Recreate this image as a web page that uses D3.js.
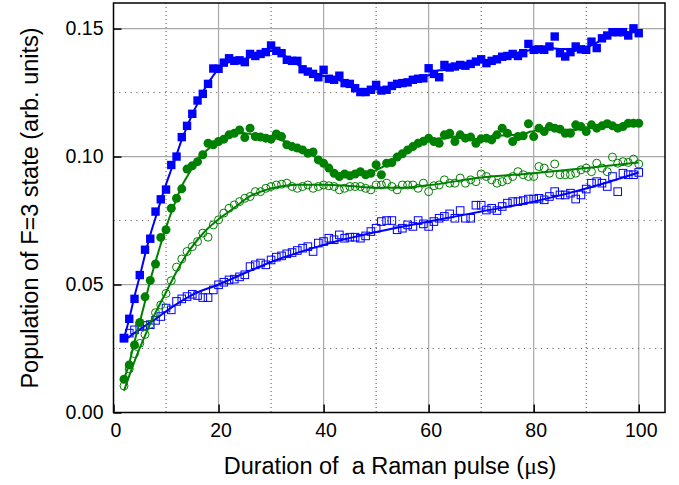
<!DOCTYPE html>
<html>
<head>
<meta charset="utf-8">
<script src="https://cdn.jsdelivr.net/npm/d3@7"></script>
<style>
  body { margin: 0; background: #fff; }
  text { font-family: "Liberation Sans", Arial, sans-serif; }
</style>
</head>
<body>
<script>
// pulse durations (µs), one sample per µs
const time = d3.range(2, 101);

// filled blue squares
const blueFilled = [0.0290,0.0366,0.0444,0.0537,0.0636,0.0679,0.0785,0.0833,0.0871,0.0967,
  0.1000,0.1076,0.1120,0.1167,0.1219,0.1245,0.1284,0.1344,0.1343,0.1367,
  0.1384,0.1374,0.1376,0.1369,0.1401,0.1393,0.1401,0.1408,0.1434,0.1413,
  0.1404,0.1378,0.1374,0.1374,0.1341,0.1332,0.1323,0.1310,0.1339,0.1304,
  0.1300,0.1316,0.1287,0.1284,0.1267,0.1252,0.1252,0.1261,0.1280,0.1258,
  0.1261,0.1276,0.1284,0.1287,0.1290,0.1300,0.1304,0.1306,0.1345,0.1323,
  0.1310,0.1358,0.1348,0.1352,0.1358,0.1355,0.1362,0.1371,0.1380,0.1365,
  0.1374,0.1380,0.1390,0.1393,0.1401,0.1393,0.1404,0.1440,0.1417,0.1419,
  0.1417,0.1430,0.1469,0.1404,0.1391,0.1408,0.1430,0.1419,0.1417,0.1449,
  0.1424,0.1462,0.1473,0.1486,0.1486,0.1486,0.1473,0.1501,0.1482];

// filled green circles
const greenFilled = [0.0130,0.0186,0.0264,0.0352,0.0452,0.0516,0.0580,0.0684,0.0714,0.0798,
  0.0837,0.0874,0.0951,0.0964,0.0980,0.1007,0.1052,0.1046,0.1059,0.1068,
  0.1085,0.1091,0.1104,0.1074,0.1111,0.1078,0.1076,0.1072,0.1068,0.1088,
  0.1078,0.1046,0.1039,0.1033,0.1026,0.1013,0.1018,0.0987,0.0974,0.0955,
  0.0935,0.0922,0.0932,0.0925,0.0932,0.0941,0.0929,0.0935,0.0968,0.0929,
  0.0974,0.0977,0.0998,0.1011,0.1026,0.1039,0.1052,0.1060,0.1072,0.1059,
  0.1052,0.1085,0.1091,0.1059,0.1085,0.1072,0.1076,0.1052,0.1070,0.1072,
  0.1065,0.1085,0.1111,0.1091,0.1059,0.1078,0.1081,0.1128,0.1078,0.1111,
  0.1098,0.1117,0.1111,0.1107,0.1091,0.1091,0.1124,0.1117,0.1098,0.1124,
  0.1111,0.1120,0.1128,0.1120,0.1111,0.1117,0.1130,0.1130,0.1130];

// open green circles
const greenOpen = [0.0104,0.0170,0.0230,0.0270,0.0305,0.0345,0.0390,0.0420,0.0465,0.0515,
  0.0568,0.0600,0.0629,0.0648,0.0668,0.0701,0.0685,0.0733,0.0753,0.0779,
  0.0798,0.0811,0.0824,0.0837,0.0844,0.0863,0.0863,0.0876,0.0883,0.0889,
  0.0892,0.0896,0.0883,0.0876,0.0883,0.0889,0.0876,0.0883,0.0889,0.0886,
  0.0883,0.0870,0.0876,0.0883,0.0883,0.0883,0.0876,0.0870,0.0889,0.0889,
  0.0896,0.0883,0.0870,0.0889,0.0889,0.0889,0.0876,0.0896,0.0863,0.0886,
  0.0889,0.0909,0.0896,0.0896,0.0916,0.0896,0.0909,0.0902,0.0932,0.0922,
  0.0909,0.0896,0.0902,0.0909,0.0922,0.0941,0.0929,0.0922,0.0922,0.0961,
  0.0955,0.0935,0.0971,0.0929,0.0929,0.0929,0.0935,0.0948,0.0955,0.0941,
  0.0974,0.0955,0.0941,0.0998,0.0974,0.0980,0.0977,0.0990,0.0971];

// open blue squares
const blueOpen = [0.0291,0.0310,0.0323,0.0336,0.0340,0.0343,0.0360,0.0375,0.0408,0.0401,
  0.0434,0.0444,0.0453,0.0462,0.0457,0.0449,0.0449,0.0479,0.0499,0.0509,
  0.0518,0.0521,0.0530,0.0538,0.0570,0.0577,0.0584,0.0577,0.0596,0.0607,
  0.0612,0.0620,0.0625,0.0633,0.0642,0.0648,0.0629,0.0662,0.0668,0.0681,
  0.0675,0.0694,0.0681,0.0685,0.0685,0.0681,0.0690,0.0707,0.0720,0.0746,
  0.0750,0.0750,0.0714,0.0720,0.0733,0.0727,0.0750,0.0737,0.0727,0.0746,
  0.0759,0.0766,0.0776,0.0759,0.0789,0.0759,0.0759,0.0810,0.0810,0.0791,
  0.0798,0.0789,0.0805,0.0818,0.0824,0.0824,0.0828,0.0834,0.0834,0.0837,
  0.0831,0.0844,0.0863,0.0850,0.0850,0.0857,0.0834,0.0850,0.0873,0.0896,
  0.0902,0.0896,0.0883,0.0922,0.0863,0.0935,0.0929,0.0929,0.0938];

// fitted curves for the open symbols
const greenFitT = [2,4,6,8,10,12,14,16,18,20,23,26,30,35,40,45,50,55,60,70,80,90,100];
const greenFitV = [0.0085,0.0200,0.0300,0.0390,0.0470,0.0550,0.0620,0.0675,0.0720,0.0755,
  0.0800,0.0845,0.0875,0.0890,0.0890,0.0885,0.0878,0.0878,0.0888,0.0918,0.0935,0.0955,0.0977];
const blueFitT = [2,5,8,11,15,20,25,30,40,50,60,70,80,90,100];
const blueFitV = [0.0282,0.0325,0.0365,0.0410,0.0460,0.0500,0.0545,0.0588,0.0655,0.0705,
  0.0746,0.0785,0.0824,0.0875,0.0938];

const xTicks = [0, 20, 40, 60, 80, 100];
const xMinor = [10, 30, 50, 70, 90];
const yTicks = [0, 0.05, 0.10, 0.15];
const yMinor = [0.025, 0.075, 0.125];

const width = 679, height = 485;
const mLeft = 113.5, mRight = 665, mTop = 3, mBottom = 412.5;
const blue = "#0000ff", green = "#008000";

const svg = d3.select("body").append("svg")
  .attr("width", width)
  .attr("height", height);

const x = d3.scaleLinear().domain([0, 105]).range([mLeft, mRight]);
const y = d3.scaleLinear().domain([0, 0.16]).range([mBottom, mTop]);

// grid
svg.append("g").selectAll("line").data(xTicks.filter(d => d > 0)).join("line")
  .attr("x1", d => x(d)).attr("x2", d => x(d)).attr("y1", mTop).attr("y2", mBottom)
  .attr("stroke", "#a8a8a8").attr("stroke-width", 1.2);
svg.append("g").selectAll("line").data(yTicks.filter(d => d > 0)).join("line")
  .attr("x1", mLeft).attr("x2", mRight).attr("y1", d => y(d)).attr("y2", d => y(d))
  .attr("stroke", "#a8a8a8").attr("stroke-width", 1.2);
svg.append("g").selectAll("line").data(xMinor).join("line")
  .attr("x1", d => x(d)).attr("x2", d => x(d)).attr("y1", mTop).attr("y2", mBottom)
  .attr("stroke", "#555").attr("stroke-width", 1).attr("stroke-dasharray", "1,3");
svg.append("g").selectAll("line").data(yMinor).join("line")
  .attr("x1", mLeft).attr("x2", mRight).attr("y1", d => y(d)).attr("y2", d => y(d))
  .attr("stroke", "#666").attr("stroke-width", 1).attr("stroke-dasharray", "1.2,4.5");

// axes, ticks pointing inside
const xAxis = d3.axisBottom(x).tickValues(xTicks).tickSize(-8).tickPadding(11)
  .tickFormat(d3.format("d"));
const gx = svg.append("g").attr("transform", `translate(0,${mBottom})`).call(xAxis);
const yAxis = d3.axisLeft(y).tickValues(yTicks).tickSize(-8).tickPadding(10)
  .tickFormat(d3.format(".2f"));
const gy = svg.append("g").attr("transform", `translate(${mLeft},0)`).call(yAxis);
[gx, gy].forEach(g => {
  g.select(".domain").remove();
  g.selectAll(".tick line").attr("stroke", "#000").attr("stroke-width", 1.5);
  g.selectAll("text").attr("font-size", 19.5).attr("fill", "#000")
    .attr("font-family", "Liberation Sans, Arial, sans-serif");
});
gx.selectAll("text").attr("dx", 2);

// moving average for the lines through the filled symbols
const smooth = (arr, h) => arr.map((v, i) => {
  const k = Math.min(h, i, arr.length - 1 - i);
  return d3.mean(arr.slice(i - k, i + k + 1));
});

const line = d3.line().x(d => x(d[0])).y(d => y(d[1])).curve(d3.curveMonotoneX);
const plot = svg.append("g");

// open blue squares + fit
plot.selectAll("rect.bo").data(d3.zip(time, blueOpen)).join("rect")
  .attr("class", "bo")
  .attr("x", d => x(d[0]) - 3.8).attr("y", d => y(d[1]) - 3.8)
  .attr("width", 7.6).attr("height", 7.6)
  .attr("fill", "none").attr("stroke", blue).attr("stroke-width", 1);
plot.append("path").datum(d3.zip(blueFitT, blueFitV))
  .attr("d", line).attr("fill", "none").attr("stroke", blue).attr("stroke-width", 2);

// open green circles + fit
plot.selectAll("circle.go").data(d3.zip(time, greenOpen)).join("circle")
  .attr("class", "go")
  .attr("cx", d => x(d[0])).attr("cy", d => y(d[1])).attr("r", 4)
  .attr("fill", "none").attr("stroke", green).attr("stroke-width", 1);
plot.append("path").datum(d3.zip(greenFitT, greenFitV))
  .attr("d", line).attr("fill", "none").attr("stroke", green).attr("stroke-width", 2);

// filled green circles
plot.append("path").datum(d3.zip(time, smooth(greenFilled, 2)))
  .attr("d", line).attr("fill", "none").attr("stroke", green).attr("stroke-width", 2);
plot.selectAll("circle.gf").data(d3.zip(time, greenFilled)).join("circle")
  .attr("class", "gf")
  .attr("cx", d => x(d[0])).attr("cy", d => y(d[1])).attr("r", 4.5)
  .attr("fill", green);

// filled blue squares
plot.append("path").datum(d3.zip(time, smooth(blueFilled, 2)))
  .attr("d", line).attr("fill", "none").attr("stroke", blue).attr("stroke-width", 2);
plot.selectAll("rect.bf").data(d3.zip(time, blueFilled)).join("rect")
  .attr("class", "bf")
  .attr("x", d => x(d[0]) - 4.2).attr("y", d => y(d[1]) - 4.2)
  .attr("width", 8.4).attr("height", 8.4)
  .attr("fill", blue);

// frame
svg.append("rect")
  .attr("x", mLeft).attr("y", mTop)
  .attr("width", mRight - mLeft).attr("height", mBottom - mTop)
  .attr("fill", "none").attr("stroke", "#000").attr("stroke-width", 1.5);

// titles
const xt = svg.append("text")
  .attr("x", 390).attr("y", 474)
  .attr("text-anchor", "middle").attr("font-size", 23.5)
  .style("white-space", "pre");
xt.append("tspan").text("Duration of  a Raman pulse (");
xt.append("tspan").attr("font-family", "Liberation Serif, serif").text("μ");
xt.append("tspan").text("s)");

svg.append("text")
  .attr("transform", "translate(38,208) rotate(-90)")
  .attr("text-anchor", "middle").attr("font-size", 23.5)
  .text("Population of F=3 state (arb. units)");
</script>
</body>
</html>
